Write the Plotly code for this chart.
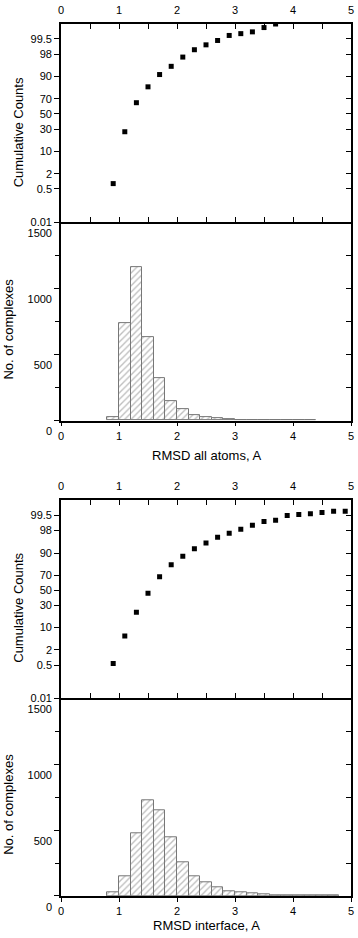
import plotly.graph_objects as go
from statistics import NormalDist

# ---------------- data ----------------
# cumulative counts (%), all atoms
cum1_x = [0.9, 1.1, 1.3, 1.5, 1.7, 1.9, 2.1, 2.3, 2.5, 2.7, 2.9, 3.1, 3.3, 3.5, 3.7]
cum1_y = [0.83, 27.0, 65.0, 82.4, 91.2, 94.9, 97.46, 98.63, 99.12, 99.42, 99.65, 99.71, 99.76, 99.85, 99.90]

# histogram, all atoms (bin centres, width 0.2)
hist1_x = [0.9, 1.1, 1.3, 1.5, 1.7, 1.9, 2.1, 2.3, 2.5, 2.7, 2.9, 3.1, 3.3, 3.5, 3.7, 3.9, 4.1, 4.3]
hist1_y = [25, 738, 1158, 630, 318, 150, 83, 43, 25, 15, 8, 3, 2, 0, 1, 1, 1, 1]

# cumulative counts (%), interface
cum2_x = [0.9, 1.1, 1.3, 1.5, 1.7, 1.9, 2.1, 2.3, 2.5, 2.7, 2.9, 3.1, 3.3, 3.5, 3.7, 3.9, 4.1, 4.3, 4.5, 4.7, 4.9]
cum2_y = [0.58, 5.73, 22.4, 45.9, 68.0, 80.9, 87.9, 92.4, 94.8, 96.6, 97.5, 98.2, 98.74, 99.10, 99.20,
          99.49, 99.54, 99.58, 99.63, 99.67, 99.67]

# histogram, interface
hist2_x = [0.9, 1.1, 1.3, 1.5, 1.7, 1.9, 2.1, 2.3, 2.5, 2.7, 2.9, 3.1, 3.3, 3.5, 3.7, 3.9, 4.1, 4.3, 4.5, 4.7]
hist2_y = [30, 149, 475, 727, 650, 445, 256, 149, 101, 63, 35, 26, 24, 15, 6, 8, 2, 2, 2, 2]

prob_ticks = [0.01, 0.5, 2, 10, 30, 50, 70, 90, 98, 99.5]
prob_ticktext = ["0.01", "0.5", "2", "10", "30", "50", "70", "90", "98", "99.5"]
x_ticks = [0, 1, 2, 3, 4, 5]
hist_ticks = [0, 500, 1000, 1500]

xtitle1 = "RMSD all atoms, A"
xtitle2 = "RMSD interface, A"
ytitle_cum = "Cumulative Counts"
ytitle_hist = "No. of complexes"

# ---------------- helpers ----------------
nd = NormalDist()


def probit(p):
    return nd.inv_cdf(p / 100.0)


FONT = "Arial, Liberation Sans, sans-serif"
W, H = 358, 938
ML, MR, MT, MB = 61, 4, 17, 42
PH = H - MT - MB


def py(px):
    return (H - MB - px) / PH


def pxx(px):
    return (px - ML) / (W - ML - MR)


prob_range = [probit(0.01), probit(99.9)]

domains = [
    [py(216.7), 1.0],    # cum 1
    [py(416.7), py(216.7)],  # hist 1
    [py(696.7), py(497.3)],  # cum 2
    [0.0, py(696.7)],    # hist 2
]

fig = go.Figure()

# histogram traces
for i, (hx, hy) in enumerate([(hist1_x, hist1_y), (hist2_x, hist2_y)]):
    n = 2 if i == 0 else 4
    fig.add_trace(go.Bar(
        x=hx, y=hy, width=0.2,
        marker=dict(color="white",
                    line=dict(color="#777777", width=1),
                    pattern=dict(shape="/", fgcolor="#7e7e7e", bgcolor="white",
                                 size=4.5, solidity=0.3)),
        xaxis=f"x{n}", yaxis=f"y{n}", showlegend=False, hoverinfo="x+y"))

# cumulative traces
for i, (cx, cy) in enumerate([(cum1_x, cum1_y), (cum2_x, cum2_y)]):
    n = 1 if i == 0 else 3
    xa = "x" if n == 1 else f"x{n}"
    ya = "y" if n == 1 else f"y{n}"
    fig.add_trace(go.Scatter(
        x=cx, y=[probit(v) for v in cy], mode="markers",
        marker=dict(symbol="square", size=5, color="black"),
        xaxis=xa, yaxis=ya, showlegend=False,
        text=[f"{v}%" for v in cy], hoverinfo="x+text"))

# empty traces for right-side overlay axes
for n in range(1, 5):
    xa = "x" if n == 1 else f"x{n}"
    fig.add_trace(go.Scatter(x=[], y=[], xaxis=xa, yaxis=f"y{n + 4}",
                             showlegend=False, hoverinfo="skip"))

LINE = dict(showline=True, linecolor="black", linewidth=1.6)
TF = dict(family=FONT, size=11, color="black")

layout = dict(
    width=W, height=H,
    margin=dict(l=ML, r=MR, t=MT, b=MB, pad=0),
    paper_bgcolor="white", plot_bgcolor="white",
    font=dict(family=FONT, size=11, color="black"),
    bargap=0, showlegend=False,
)

for n in range(1, 5):
    key = "xaxis" if n == 1 else f"xaxis{n}"
    ykey = "yaxis" if n == 1 else f"yaxis{n}"
    ya = "y" if n == 1 else f"y{n}"
    xa = "x" if n == 1 else f"x{n}"
    dom = domains[n - 1]
    is_cum = n in (1, 3)
    if is_cum:
        layout[key] = dict(
            domain=[0, 1], anchor=ya, range=[0, 5], side="top",
            mirror="allticks", ticks="inside", ticklen=5, tickwidth=1.4,
            tickcolor="black", tickvals=x_ticks, showgrid=False, zeroline=False,
            tickfont=TF, ticklabelstandoff=4,
            minor=dict(tickvals=[0.5, 1.5, 2.5, 3.5, 4.5], ticks="inside",
                       ticklen=3, tickwidth=1.2, tickcolor="black"),
            **LINE)
        layout[ykey] = dict(
            domain=dom, anchor=xa, range=prob_range,
            tickvals=[probit(v) for v in prob_ticks], ticktext=prob_ticktext,
            ticks="outside", ticklen=5, tickwidth=1.2, tickcolor="black",
            mirror=True, showgrid=False, zeroline=False, tickfont=TF, **LINE)
        layout[f"yaxis{n + 4}"] = dict(
            overlaying=ya, anchor=xa, side="right", range=prob_range,
            tickvals=[probit(v) for v in prob_ticks], showticklabels=False,
            ticks="inside", ticklen=5, tickwidth=1.2, tickcolor="black",
            showline=False, showgrid=False, zeroline=False)
    else:
        layout[key] = dict(
            domain=[0, 1], anchor=ya, range=[0, 5], side="bottom",
            mirror=False, ticks="outside", ticklen=4, tickwidth=1.2,
            tickcolor="black", tickvals=x_ticks, showgrid=False, zeroline=False,
            tickfont=TF, **LINE)
        layout[ykey] = dict(
            domain=dom, anchor=xa, range=[0, 1500],
            tickvals=hist_ticks, ticks="outside", ticklen=5, tickwidth=1.2,
            tickcolor="black", mirror=True, showgrid=False, zeroline=False,
            tickfont=TF, ticklabelshift=11,
            minor=dict(tickvals=[250, 750, 1250], ticks="outside", ticklen=4,
                       tickwidth=1.2, tickcolor="black"),
            **LINE)
        layout[f"yaxis{n + 4}"] = dict(
            overlaying=ya, anchor=xa, side="right", range=[0, 1500],
            tickvals=[250, 500, 750, 1000, 1250], showticklabels=False,
            ticks="inside", ticklen=5, tickwidth=1.2, tickcolor="black",
            showline=False, showgrid=False, zeroline=False)

TT = dict(family=FONT, size=13, color="black")
annotations = [
    dict(text=ytitle_cum, x=pxx(18), y=py(125.8), textangle=-90),
    dict(text=ytitle_hist, x=pxx(8.5), y=py(325), textangle=-90),
    dict(text=ytitle_cum, x=pxx(18), y=py(605), textangle=-90),
    dict(text=ytitle_hist, x=pxx(8.5), y=py(804), textangle=-90),
    dict(text=xtitle1, x=0.5, y=py(451.7)),
    dict(text=xtitle2, x=0.5, y=py(926)),
]
for a in annotations:
    a.update(xref="paper", yref="paper", showarrow=False, font=TT,
             xanchor="center", yanchor="middle")
layout["annotations"] = annotations

fig.update_layout(**layout)
fig.write_html("out.html",
               config={"displayModeBar": False},
               post_script="document.body.style.margin='0';"
                           "document.body.style.padding='0';"
                           "document.body.style.overflow='hidden';")
